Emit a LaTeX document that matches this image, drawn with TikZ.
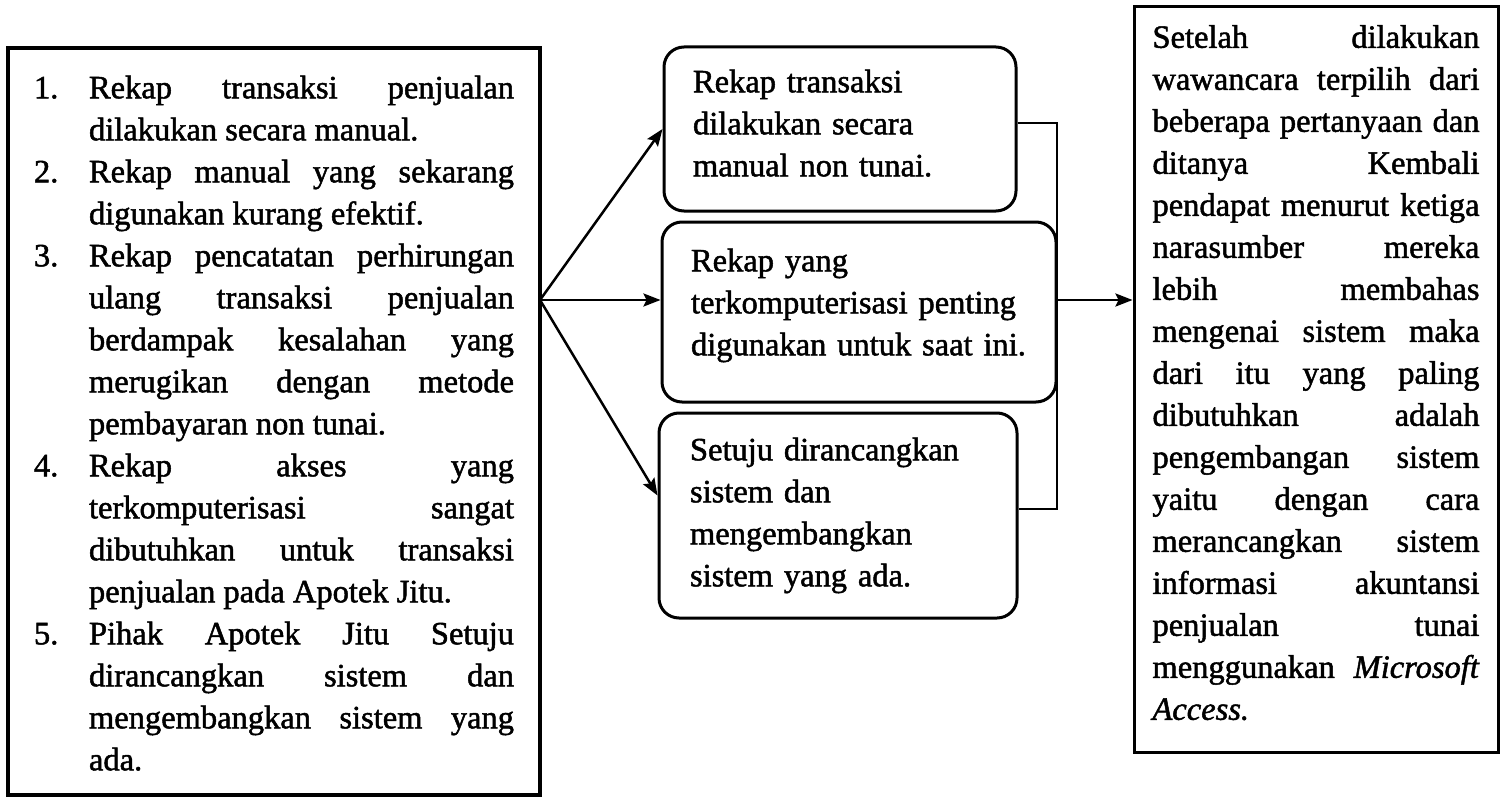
\documentclass[tikz,border=0pt]{standalone}
\usepackage{fontspec}
\setmainfont{Liberation Serif}[FakeBold=1.5]
\usepackage{enumitem}
\usetikzlibrary{arrows.meta, positioning}
\newcommand*{\tiefe}[1]{\rule[-#1]{0pt}{#1}}

\begin{document}
\begin{tikzpicture}[
        x=1pt,y=-1pt,>={Stealth[length=17pt,width=13pt,inset=3pt]},
        every node/.style={font=\fontsize{32.5}{42}\selectfont, inner sep=0pt},
        kotak/.style={draw, line width=3.5pt, align=justify, execute at begin node={\tolerance=10000}},
        bulat/.style={draw, line width=3pt, rounded corners=20pt, align=left},
        panah/.style={->, line width=2.5pt},
        garis/.style={line width=2pt},
        ]
        \useasboundingbox (0,0) rectangle (1506,797);

        % hasil wawancara
        \node[kotak, minimum width=532pt, minimum height=747pt, text width=480pt] (hasil) at (274,421.5) {%
          \vspace*{-16pt}
          \begin{enumerate}[leftmargin=55pt, labelwidth=30pt, labelsep=25pt, align=left,
              itemsep=0pt, topsep=0pt, parsep=0pt, partopsep=0pt]
            \item Rekap transaksi penjualan\linebreak dilakukan secara manual.
            \item Rekap manual yang sekarang\linebreak digunakan kurang efektif.
            \item Rekap pencatatan perhirungan\linebreak ulang transaksi penjualan\linebreak
              berdampak kesalahan yang\linebreak merugikan dengan metode\linebreak pembayaran non tunai.
            \item Rekap akses yang\linebreak terkomputerisasi sangat\linebreak
              dibutuhkan untuk transaksi\linebreak penjualan pada Apotek Jitu.
            \item Pihak Apotek Jitu Setuju\linebreak dirancangkan sistem dan\linebreak
              mengembangkan sistem yang\linebreak ada.
          \end{enumerate}};

        \node[bulat, minimum width=352pt, minimum height=164pt, text width=294pt] (manual) at (840,129)
          {Rekap transaksi\\ dilakukan secara\\ manual non tunai.\tiefe{12pt}};
        \node[bulat, minimum width=394pt, minimum height=180pt, text width=336pt] (komputer) at (859,312)
          {Rekap yang\\ terkomputerisasi penting\\ digunakan untuk saat ini.\tiefe{20pt}};
        \node[bulat, minimum width=358pt, minimum height=205pt, text width=296pt] (setuju) at (838,515.5)
          {Setuju dirancangkan\\ sistem dan\\ mengembangkan\\ sistem yang ada.};

        % kesimpulan
        \node[kotak, line width=3pt, minimum width=364pt, minimum height=745pt, text width=327pt] (simpulan) at (1316,379.5) {%
          Setelah dilakukan\linebreak wawancara terpilih dari\linebreak beberapa pertanyaan dan\linebreak
          ditanya Kembali\linebreak pendapat menurut ketiga\linebreak narasumber mereka\linebreak
          lebih membahas\linebreak mengenai sistem maka\linebreak dari itu yang paling\linebreak
          dibutuhkan adalah\linebreak pengembangan sistem\linebreak yaitu dengan cara\linebreak
          merancangkan sistem\linebreak informasi akuntansi\linebreak penjualan tunai\linebreak
          menggunakan \textit{Microsoft}\linebreak \textit{Access.}\tiefe{14pt}};

        \coordinate (pisah) at (540,300);
        \coordinate (gabung) at (1057,300);

        \draw[panah] (pisah) -- (manual.west);
        \draw[panah] (pisah) -- (pisah -| komputer.west);
        \draw[panah] (pisah) -- ([yshift=20pt]setuju.west);
        \draw[garis] ([yshift=6pt]manual.east) -| (gabung) |- ([yshift=7pt]setuju.east);
        \draw[panah] (gabung) -- (gabung -| simpulan.west);
      \end{tikzpicture}
\end{document}
